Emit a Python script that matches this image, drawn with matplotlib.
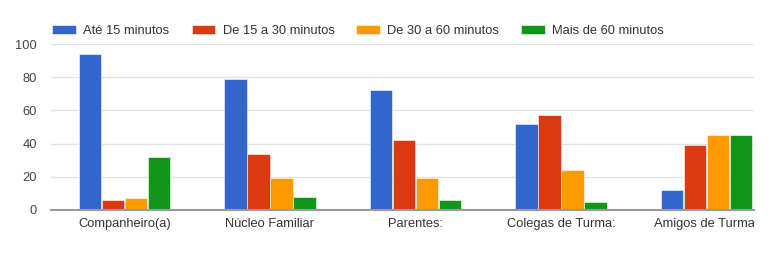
import matplotlib
matplotlib.use("Agg")
from matplotlib import pyplot as plt
from matplotlib.transforms import Bbox, TransformedBbox
import numpy as np

categories = ["Companheiro(a)", "Núcleo Familiar", "Parentes:",
              "Colegas de Turma:", "Amigos de Turma:"]
series_names = ["Até 15 minutos", "De 15 a 30 minutos",
                "De 30 a 60 minutos", "Mais de 60 minutos"]
ate_15 = [94, 79, 72, 52, 12]
de_15_30 = [6, 34, 42, 57, 39]
de_30_60 = [7, 19, 19, 24, 45]
mais_60 = [32, 8, 6, 5, 45]
yticks = [0, 20, 40, 60, 80, 100]

colors = ["#3366cc", "#dc3912", "#ff9900", "#109618"]

plt.rcParams["font.family"] = ["Liberation Sans", "DejaVu Sans"]
fig = plt.figure(figsize=(7.77, 2.6), dpi=100)
ax = fig.add_axes([51 / 777, 50 / 260, 703 / 777, 166 / 260])

x = np.arange(len(categories))
step = 0.158
width = 0.152
for i, (vals, name) in enumerate(zip([ate_15, de_15_30, de_30_60, mais_60], series_names)):
    ax.bar(x + (i - 1.5) * step, vals, width, color=colors[i], label=name,
           edgecolor="white", linewidth=0.4, zorder=3)

ax.set_xlim(-0.505, -0.505 + 703 / 145.5)
ax.set_ylim(0, 100)
ax.set_yticks(yticks)
ax.set_yticklabels([str(t) for t in yticks], fontsize=9.3, color="#444444")
ax.tick_params(axis="y", length=0, pad=10)
ax.grid(axis="y", color="#e3e3e3", linewidth=1, zorder=0)
for s in ["top", "right", "left"]:
    ax.spines[s].set_visible(False)
ax.spines["bottom"].set_color("#9a9a9a")
ax.spines["bottom"].set_linewidth(1.5)
ax.spines["bottom"].set_zorder(4)

# category labels, cut off at the right edge like the original
ax.set_xticks([])
clip_box = TransformedBbox(Bbox([[0, 0], [754 / 777, 1]]), fig.transFigure)
for xi, name in zip(x, categories):
    t = ax.text(xi, -8.5, name, ha="center", va="center", fontsize=9.3,
                color="#333333", transform=ax.transData)
    t.set_clip_on(True)
    t.set_clip_path(None)
    t.set_clip_box(clip_box)

ax.legend(loc="center left", bbox_to_anchor=(46 / 777, 1 - 31 / 260),
          bbox_transform=fig.transFigure, ncol=4, frameon=False,
          fontsize=9.3, handlelength=1.85, handleheight=0.7,
          handletextpad=0.55, columnspacing=1.7, borderpad=0,
          labelcolor="#333333")

fig.savefig("out.png", dpi=100)
